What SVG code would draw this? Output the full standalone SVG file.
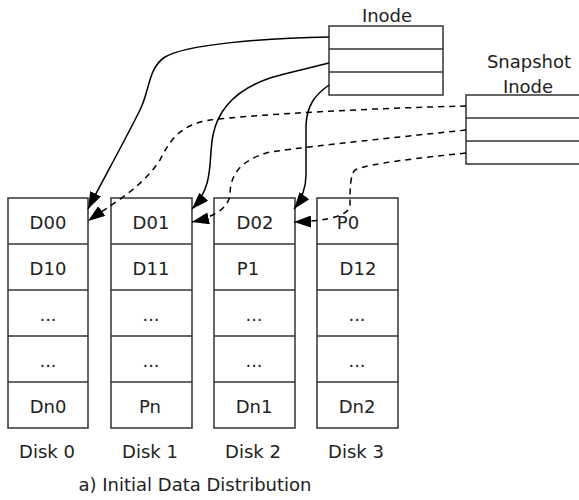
<svg xmlns="http://www.w3.org/2000/svg" width="579" height="500" viewBox="0 0 579 500">
<style>
.box{fill:#fff;stroke:#333;stroke-width:1.5}
.t{font-family:"DejaVu Sans",sans-serif;font-size:18px;fill:#222;text-anchor:middle}
.c{fill:none;stroke:#000;stroke-width:1.5;marker-end:url(#ah)}
.d{stroke-dasharray:6 5}
</style>
<defs>
<marker id="ah" markerUnits="userSpaceOnUse" markerWidth="18" markerHeight="12" refX="17" refY="6" orient="auto">
<path d="M0,0 L17,6 L0,12 z" fill="#000"/>
</marker>
</defs>
<rect width="579" height="500" fill="#fff"/>
<g id="inode">
<rect class="box" x="329" y="26" width="114" height="69"/>
<line class="box" x1="329" y1="49" x2="443" y2="49"/>
<line class="box" x1="329" y1="72" x2="443" y2="72"/>
<text class="t" x="387" y="22">Inode</text>
</g>
<g id="snapshot-inode">
<rect class="box" x="466" y="95" width="130" height="69"/>
<line class="box" x1="466" y1="118" x2="596" y2="118"/>
<line class="box" x1="466" y1="141" x2="596" y2="141"/>
<text class="t" x="529" y="68">Snapshot</text>
<text class="t" x="528" y="93">Inode</text>
</g>
<g id="disk0">
<rect class="box" x="8" y="198" width="80" height="230"/>
<line class="box" x1="8" y1="244" x2="88" y2="244"/>
<line class="box" x1="8" y1="290" x2="88" y2="290"/>
<line class="box" x1="8" y1="336" x2="88" y2="336"/>
<line class="box" x1="8" y1="382" x2="88" y2="382"/>
<text class="t" x="48" y="229">D00</text>
<text class="t" x="48" y="275">D10</text>
<text class="t" x="48" y="321">...</text>
<text class="t" x="48" y="367">...</text>
<text class="t" x="48" y="413">Dn0</text>
<text class="t" x="47" y="458">Disk 0</text>
</g>
<g id="disk1">
<rect class="box" x="111" y="198" width="81" height="230"/>
<line class="box" x1="111" y1="244" x2="192" y2="244"/>
<line class="box" x1="111" y1="290" x2="192" y2="290"/>
<line class="box" x1="111" y1="336" x2="192" y2="336"/>
<line class="box" x1="111" y1="382" x2="192" y2="382"/>
<text class="t" x="151" y="229">D01</text>
<text class="t" x="151" y="275">D11</text>
<text class="t" x="151" y="321">...</text>
<text class="t" x="151" y="367">...</text>
<text class="t" x="150" y="413">Pn</text>
<text class="t" x="150" y="458">Disk 1</text>
</g>
<g id="disk2">
<rect class="box" x="214" y="198" width="81" height="230"/>
<line class="box" x1="214" y1="244" x2="295" y2="244"/>
<line class="box" x1="214" y1="290" x2="295" y2="290"/>
<line class="box" x1="214" y1="336" x2="295" y2="336"/>
<line class="box" x1="214" y1="382" x2="295" y2="382"/>
<text class="t" x="255" y="229">D02</text>
<text class="t" x="248" y="275">P1</text>
<text class="t" x="254" y="321">...</text>
<text class="t" x="254" y="367">...</text>
<text class="t" x="254" y="413">Dn1</text>
<text class="t" x="253" y="458">Disk 2</text>
</g>
<g id="disk3">
<rect class="box" x="317" y="198" width="81" height="230"/>
<line class="box" x1="317" y1="244" x2="398" y2="244"/>
<line class="box" x1="317" y1="290" x2="398" y2="290"/>
<line class="box" x1="317" y1="336" x2="398" y2="336"/>
<line class="box" x1="317" y1="382" x2="398" y2="382"/>
<text class="t" x="348" y="229">P0</text>
<text class="t" x="358" y="275">D12</text>
<text class="t" x="357" y="321">...</text>
<text class="t" x="357" y="367">...</text>
<text class="t" x="357" y="413">Dn2</text>
<text class="t" x="356" y="458">Disk 3</text>
</g>
<g id="connectors">
<path class="c" d="M329,37 C260,38 185,45 165,57 C148,68 150,90 140,110 C120,150 100,185 88,209"/>
<path class="c" d="M329,63 C310,68 290,72 270,78 C235,90 218,110 213,135 C208,160 215,185 192,209"/>
<path class="c" d="M329,85 C315,95 307,105 306,125 L306,175 C306,190 301,200 294,209"/>
<path class="c d" d="M466,106 C380,108 260,114 210,120 C180,125 170,140 160,160 C140,190 110,205 88,221"/>
<path class="c d" d="M466,130 C400,137 320,145 270,152 C240,160 230,175 230,195 C228,210 210,218 192,222"/>
<path class="c d" d="M466,153 C420,158 370,163 355,170 C350,175 350,190 350,205 C350,215 330,221 294,222"/>
</g>
<text class="t" x="195" y="491">a) Initial Data Distribution</text>
</svg>
